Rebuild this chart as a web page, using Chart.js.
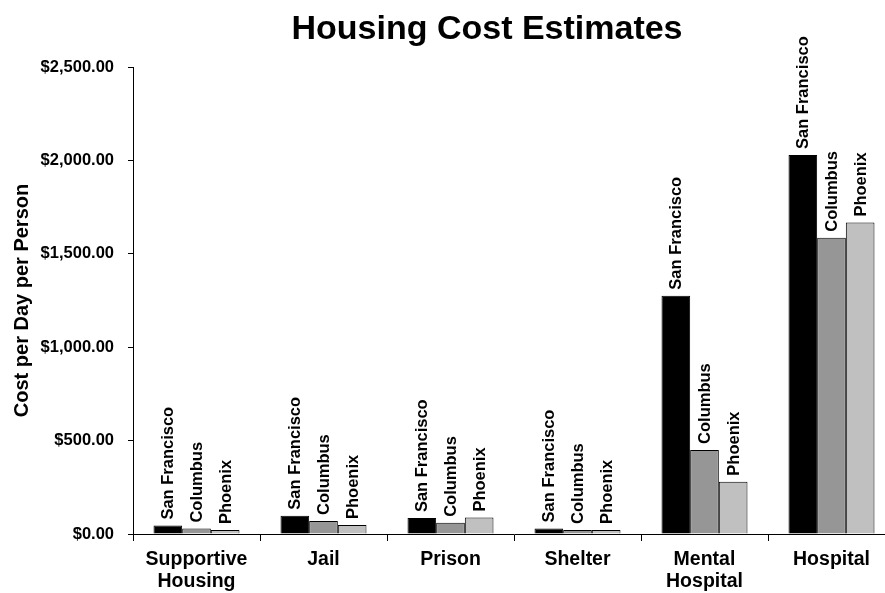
<!DOCTYPE html>
<html>
<head>
<meta charset="utf-8">
<script src="https://cdn.jsdelivr.net/npm/chart.js@4.4.1/dist/chart.umd.min.js"></script>
<style>
  html, body { margin: 0; padding: 0; overflow: hidden; background: #fff; }
  #wrap { position: relative; width: 900px; height: 593px; }
</style>
</head>
<body>
<div id="wrap"><canvas id="c"></canvas></div>
<script>
const categories = [["Supportive", "Housing"], "Jail", "Prison", "Shelter", ["Mental", "Hospital"], "Hospital"];
const seriesNames = ["San Francisco", "Columbus", "Phoenix"];
const sanFrancisco = [45, 98, 85, 30, 1276, 2029];
const columbus = [29, 70, 60, 22, 450, 1586];
const phoenix = [21, 48, 88, 22, 280, 1667];
const yTicks = [0, 500, 1000, 1500, 2000, 2500];
const chartTitle = "Housing Cost Estimates";
const yTitle = "Cost per Day per Person";

const FONT = "'Liberation Sans', Arial, Helvetica, sans-serif";

const titlePlugin = {
  id: 'titlePlugin',
  afterDraw(chart) {
    const ctx = chart.ctx;
    ctx.save();
    ctx.font = "bold 34px " + FONT;
    ctx.fillStyle = "#000";
    ctx.textAlign = "center";
    ctx.textBaseline = "alphabetic";
    ctx.fillText(chartTitle, 487, 39);
    ctx.restore();
  }
};

const barLabels = {
  id: 'barLabels',
  afterDatasetsDraw(chart) {
    const ctx = chart.ctx;
    ctx.save();
    ctx.font = "bold 16.5px " + FONT;
    ctx.fillStyle = "#000";
    ctx.textAlign = "left";
    ctx.textBaseline = "middle";
    chart.data.datasets.forEach((ds, di) => {
      const meta = chart.getDatasetMeta(di);
      meta.data.forEach((bar) => {
        ctx.save();
        ctx.translate(bar.x + 1, bar.y - 6);
        ctx.rotate(-Math.PI / 2);
        ctx.fillText(ds.label, 0, 0);
        ctx.restore();
      });
    });
    ctx.restore();
  }
};

new Chart(document.getElementById('c'), {
  type: 'bar',
  data: {
    labels: categories,
    datasets: [
      { label: seriesNames[0], data: sanFrancisco, backgroundColor: '#000000', borderColor: '#000000', borderWidth: 1 },
      { label: seriesNames[1], data: columbus, backgroundColor: '#969696', borderColor: '#000000', borderWidth: 1 },
      { label: seriesNames[2], data: phoenix, backgroundColor: '#C0C0C0', borderColor: '#000000', borderWidth: 1 }
    ]
  },
  options: {
    responsive: true,
    maintainAspectRatio: false,
    animation: false,
    devicePixelRatio: 1,
    layout: { padding: { top: 67, left: 0, right: 5, bottom: 0 } },
    plugins: {
      legend: { display: false },
      title: { display: false },
      tooltip: { enabled: false }
    },
    datasets: {
      bar: { categoryPercentage: 0.677, barPercentage: 1.0 }
    },
    scales: {
      x: {
        grid: { display: true, drawOnChartArea: false, drawTicks: true, tickLength: 7, color: '#000', offset: true },
        border: { display: true, color: '#000', width: 1 },
        ticks: {
          color: '#000',
          font: { family: FONT, size: 19.5, weight: 'bold', lineHeight: 1.15 },
          padding: 7,
          maxRotation: 0,
          autoSkip: false
        },
        afterFit(s) { s.height = 59; }
      },
      y: {
        min: 0,
        max: 2500,
        afterBuildTicks(s) { s.ticks = yTicks.map(v => ({ value: v })); },
        grid: { display: true, drawOnChartArea: false, drawTicks: true, tickLength: 5, color: '#000' },
        border: { display: true, color: '#000', width: 1 },
        ticks: {
          color: '#000',
          font: { family: FONT, size: 16.5, weight: 'bold' },
          padding: 14,
          callback: v => '$' + Number(v).toLocaleString('en-US', { minimumFractionDigits: 2, maximumFractionDigits: 2 })
        },
        title: {
          display: true,
          text: yTitle,
          color: '#000',
          font: { family: FONT, size: 20, weight: 'bold', lineHeight: 1.2 },
          padding: { top: 10, bottom: 0 }
        },
        afterFit(s) { s.width = 133; }
      }
    }
  },
  plugins: [titlePlugin, barLabels]
});
</script>
</body>
</html>
